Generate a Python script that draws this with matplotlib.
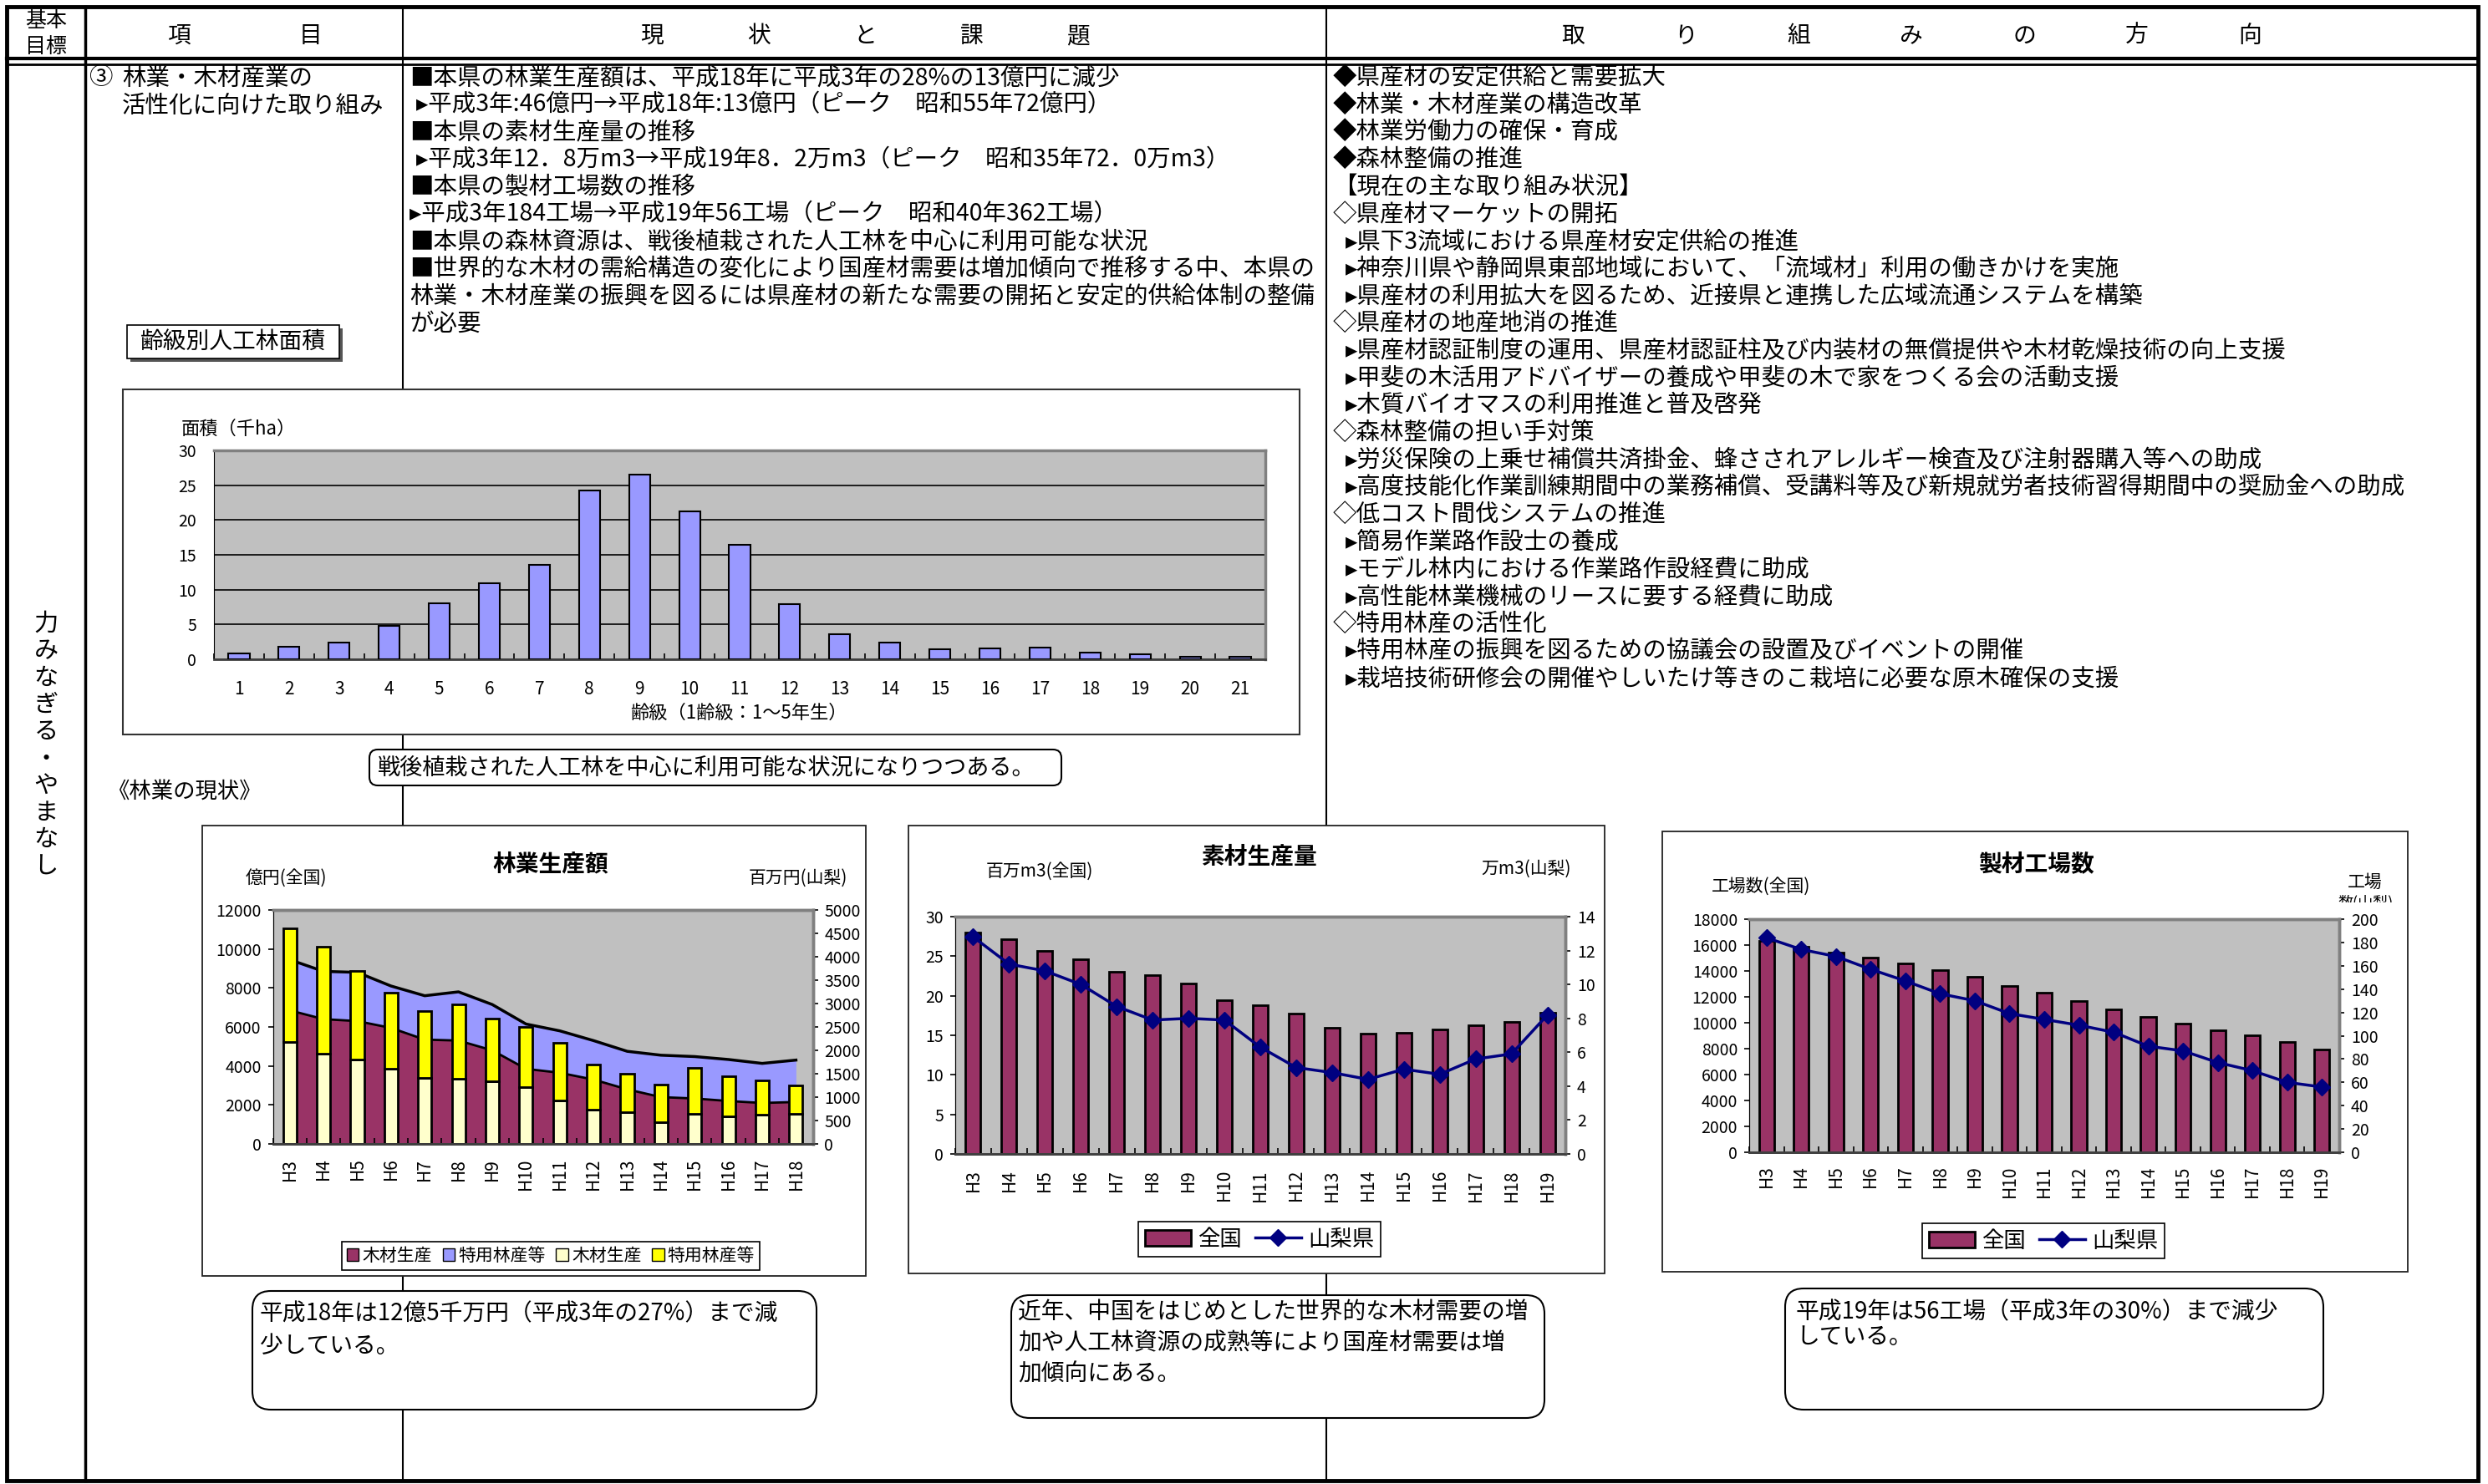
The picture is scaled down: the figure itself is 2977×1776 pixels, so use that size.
import numpy as np
import matplotlib
matplotlib.use('Agg')
import matplotlib.pyplot as plt
from matplotlib.patches import Rectangle, FancyBboxPatch, Patch
from matplotlib.lines import Line2D

plt.rcParams['font.family'] = ['Noto Sans CJK JP', 'DejaVu Sans']

W, H = 2977, 1776

# 齢級別人工林面積（千ha）
age_labels = [str(i) for i in range(1, 22)]
age_area = [0.8, 1.8, 2.4, 4.8, 8.1, 10.9, 13.6, 24.2, 26.5, 21.2, 16.5,
            7.9, 3.6, 2.4, 1.4, 1.6, 1.7, 1.0, 0.7, 0.4, 0.4]

# 林業生産額  全国(億円)=面, 山梨(百万円)=棒
prod_years = ['H3', 'H4', 'H5', 'H6', 'H7', 'H8', 'H9', 'H10', 'H11', 'H12',
              'H13', 'H14', 'H15', 'H16', 'H17', 'H18']
nat_wood = [6850, 6400, 6300, 5950, 5350, 5300, 4800, 3850, 3650, 3300,
            2800, 2400, 2330, 2200, 2100, 2150]
nat_special = [2600, 2450, 2500, 2150, 2250, 2500, 2350, 2300, 2150, 2000,
               1950, 2150, 2150, 2130, 2030, 2150]
yama_wood = [2170, 1930, 1800, 1610, 1410, 1400, 1345, 1215, 920, 730,
             670, 470, 640, 595, 620, 650]
yama_special = [2430, 2290, 1900, 1630, 1430, 1580, 1325, 1285, 1245, 970,
                830, 790, 980, 850, 740, 600]

# 素材生産量  全国(百万m3), 山梨(万m3)
log_years = prod_years + ['H19']
nat_log = [28.0, 27.1, 25.7, 24.6, 23.0, 22.6, 21.6, 19.4, 18.8, 17.7,
           15.9, 15.2, 15.3, 15.7, 16.3, 16.7, 17.8]
yama_log = [12.8, 11.2, 10.8, 10.0, 8.7, 7.9, 8.0, 7.9, 6.3, 5.1,
            4.8, 4.4, 5.0, 4.7, 5.6, 5.9, 8.2]

# 製材工場数  全国, 山梨
mill_years = log_years
nat_mills = [16300, 15860, 15450, 15040, 14590, 14050, 13520, 12840, 12300,
             11680, 11050, 10430, 9930, 9430, 9050, 8500, 7910]
yama_mills = [184, 174, 168, 157, 147, 136, 130, 119, 114, 109, 103, 91,
              87, 77, 70, 60, 56]

issues = [
    '■本県の林業生産額は、平成18年に平成3年の28%の13億円に減少',
    '▸平成3年:46億円→平成18年:13億円（ピーク　昭和55年72億円）',
    '■本県の素材生産量の推移',
    '▸平成3年12．8万m3→平成19年8．2万m3（ピーク　昭和35年72．0万m3）',
    '■本県の製材工場数の推移',
    '▸平成3年184工場→平成19年56工場（ピーク　昭和40年362工場）',
    '■本県の森林資源は、戦後植栽された人工林を中心に利用可能な状況',
    '■世界的な木材の需給構造の変化により国産材需要は増加傾向で推移する中、本県の',
    '林業・木材産業の振興を図るには県産材の新たな需要の開拓と安定的供給体制の整備',
    'が必要',
]

actions = [
    '◆県産材の安定供給と需要拡大',
    '◆林業・木材産業の構造改革',
    '◆林業労働力の確保・育成',
    '◆森林整備の推進',
    '【現在の主な取り組み状況】',
    '◇県産材マーケットの開拓',
    '▸県下3流域における県産材安定供給の推進',
    '▸神奈川県や静岡県東部地域において、「流域材」利用の働きかけを実施',
    '▸県産材の利用拡大を図るため、近接県と連携した広域流通システムを構築',
    '◇県産材の地産地消の推進',
    '▸県産材認証制度の運用、県産材認証柱及び内装材の無償提供や木材乾燥技術の向上支援',
    '▸甲斐の木活用アドバイザーの養成や甲斐の木で家をつくる会の活動支援',
    '▸木質バイオマスの利用推進と普及啓発',
    '◇森林整備の担い手対策',
    '▸労災保険の上乗せ補償共済掛金、蜂さされアレルギー検査及び注射器購入等への助成',
    '▸高度技能化作業訓練期間中の業務補償、受講料等及び新規就労者技術習得期間中の奨励金への助成',
    '◇低コスト間伐システムの推進',
    '▸簡易作業路作設士の養成',
    '▸モデル林内における作業路作設経費に助成',
    '▸高性能林業機械のリースに要する経費に助成',
    '◇特用林産の活性化',
    '▸特用林産の振興を図るための協議会の設置及びイベントの開催',
    '▸栽培技術研修会の開催やしいたけ等きのこ栽培に必要な原木確保の支援',
]

note1 = ['平成18年は12億5千万円（平成3年の27%）まで減', '少している。']
note2 = ['近年、中国をはじめとした世界的な木材需要の増',
         '加や人工林資源の成熟等により国産材需要は増', '加傾向にある。']
note3 = ['平成19年は56工場（平成3年の30%）まで減少', 'している。']

fig = plt.figure(figsize=(W / 100, H / 100), dpi=100)
bg = fig.add_axes([0, 0, 1, 1])
bg.set_xlim(0, W)
bg.set_ylim(H, 0)
bg.axis('off')


def px_axes(x0, y0, x1, y1):
    return fig.add_axes([x0 / W, 1 - y1 / H, (x1 - x0) / W, (y1 - y0) / H])


def put(x, y, s, size=20.5, **kw):
    kw.setdefault('ha', 'left')
    kw.setdefault('va', 'center')
    return bg.text(x, y, s, fontsize=size, zorder=6, **kw)


def callout(x0, y0, x1, y1, r=22):
    bg.add_patch(FancyBboxPatch((x0, y0), x1 - x0, y1 - y0,
                                boxstyle=f'round,pad=0,rounding_size={r}',
                                fc='white', ec='black', lw=1.5, zorder=4))


# table frame
bg.add_patch(Rectangle((8, 8), 2957, 1764, fill=False, lw=3.5, ec='black', zorder=2))
bg.plot([8, 2965], [70, 70], color='black', lw=3, zorder=2)
bg.plot([8, 2965], [77, 77], color='black', lw=2, zorder=2)
bg.plot([102, 102], [8, 1772], color='black', lw=2.5, zorder=1)
for xc in (482, 1587):
    bg.plot([xc, xc], [8, 1772], color='black', lw=1.5, zorder=1)

# header
put(55, 25, '基本', 18, ha='center')
put(55, 56, '目標', 18, ha='center')
for xc, ch in zip([214, 372], '項目'):
    put(xc, 43, ch, 20, ha='center')
for xc, ch in zip(np.linspace(780, 1290, 5), '現状と課題'):
    put(xc, 43, ch, 20, ha='center')
for xc, ch in zip(np.linspace(1882, 2692, 7), '取り組みの方向'):
    put(xc, 43, ch, 20, ha='center')

# left columns
for i, ch in enumerate('力みなぎる・やまなし'):
    put(55, 747 + i * 32.3, ch, 21, ha='center')
put(106, 93, '③', 20.5)
put(146, 93, '林業・木材産業の', 20.5)
put(146, 127, '活性化に向けた取り組み', 20.5)
bg.add_patch(Rectangle((156, 393), 254, 40, fc='#555555', ec='none', zorder=3))
bg.add_patch(Rectangle((152, 389), 254, 40, fc='white', ec='black', lw=1.2, zorder=4))
put(279, 409, '齢級別人工林面積', 20, ha='center')

# text columns
for i, s in enumerate(issues):
    put(498 if s.startswith('▸') and i < 4 else 490, 93 + i * 32.7, s)
for i, s in enumerate(actions):
    put(1610 if s.startswith('▸') else 1595, 93 + i * 32.7, s)


def style_axes(ax, ax2, labels, rot=90, xsize=15, pad=12):
    ax.set_facecolor('#C0C0C0')
    ax.set_xlim(-0.5, len(labels) - 0.5)
    ax.set_xticks(np.arange(len(labels)))
    ax.set_xticklabels(labels, rotation=rot, fontsize=xsize)
    ax.set_xticks(np.arange(-0.5, len(labels)), minor=True)
    ax.tick_params(axis='x', which='major', length=0, pad=pad)
    ax.tick_params(axis='x', which='minor', direction='in', length=5, width=1.2)
    for a in [ax] + ([ax2] if ax2 is not None else []):
        a.tick_params(axis='y', labelsize=14, length=4, width=1.2, pad=6)
        for side in ('top', 'right'):
            a.spines[side].set_color('#808080')
            a.spines[side].set_linewidth(2.5)
        a.spines['left'].set_color('black')
        a.spines['bottom'].set_color('#404040')
        a.spines['bottom'].set_linewidth(2)


# ---- age class chart ----
bg.add_patch(Rectangle((147, 466), 1408, 413, fc='white', ec='#333333', lw=1.5, zorder=3))
ax = px_axes(256, 539, 1514, 789)
xa = np.arange(len(age_labels))
ax.bar(xa, age_area, 0.42, color='#9999FF', edgecolor='black', lw=1.5, zorder=3)
style_axes(ax, None, age_labels, rot=0, xsize=15, pad=18)
ax.set_ylim(0, 30)
ax.set_yticks(range(0, 31, 5))
ax.tick_params(axis='y', length=0, pad=15)
ax.yaxis.grid(True, color='black', lw=1.2)
ax.set_axisbelow(True)
put(217, 513, '面積（千ha）', 16)
put(884, 853, '齢級（1齢級：1～5年生）', 16, ha='center')
callout(442, 897, 1270, 940, r=10)
put(452, 919, '戦後植栽された人工林を中心に利用可能な状況になりつつある。', 19.5)
put(128, 947, '《林業の現状》', 19)

# ---- 林業生産額 ----
bg.add_patch(Rectangle((242, 988), 794, 539, fc='white', ec='#222222', lw=1.3, zorder=3))
ax = px_axes(326.5, 1089, 972.6, 1369)
xp = np.arange(len(prod_years))
wood = np.array(nat_wood)
total = wood + np.array(nat_special)
ax.fill_between(xp, 0, wood, color='#993366', lw=0)
ax.fill_between(xp, wood, total, color='#9999FF', lw=0)
ax.plot(xp, wood, color='black', lw=2)
ax.plot(xp, total, color='black', lw=2.5)
ax.set_ylim(0, 12000)
ax.set_yticks(range(0, 12001, 2000))
ax2 = ax.twinx()
ax2.bar(xp, yama_wood, 0.4, color='#FFFFCC', edgecolor='black', lw=2)
ax2.bar(xp, yama_special, 0.4, bottom=yama_wood, color='#FFFF00', edgecolor='black', lw=2)
ax2.set_ylim(0, 5000)
ax2.set_yticks(range(0, 5001, 500))
style_axes(ax, ax2, prod_years, pad=12)
put(659, 1034, '林業生産額', 20, ha='center', fontweight='bold')
put(342, 1051, '億円(全国)', 15, ha='center')
put(955, 1051, '百万円(山梨)', 15, ha='center')
handles = [Patch(fc='#993366', ec='black'), Patch(fc='#9999FF', ec='black'),
           Patch(fc='#FFFFCC', ec='black'), Patch(fc='#FFFF00', ec='black')]
leg = ax2.legend(handles, ['木材生産', '特用林産等', '木材生産', '特用林産等'],
                 loc='center', bbox_to_anchor=(659, 1503), bbox_transform=bg.transData,
                 ncol=4, fontsize=15, handlelength=0.7, handleheight=0.7,
                 handletextpad=0.2, columnspacing=0.6, borderpad=0.3,
                 fancybox=False, edgecolor='black', framealpha=1)
leg.get_frame().set_linewidth(1.2)


def combo_chart(box, plot, years, bars, line, lmax, lstep, rmax, rstep, width, pad, legend_xy):
    bg.add_patch(Rectangle(box[:2], box[2] - box[0], box[3] - box[1],
                           fc='white', ec='#222222', lw=1.3, zorder=3))
    ax = px_axes(*plot)
    xs = np.arange(len(years))
    ax.bar(xs, bars, width, color='#993366', edgecolor='black', lw=2)
    ax.set_ylim(0, lmax)
    ax.set_yticks(np.arange(0, lmax + 1, lstep))
    ax2 = ax.twinx()
    ax2.plot(xs, line, color='#000080', lw=2.5, marker='D', ms=10)
    ax2.set_ylim(0, rmax)
    ax2.set_yticks(np.arange(0, rmax + 1, rstep))
    style_axes(ax, ax2, years, pad=pad)
    hs = [Patch(fc='#993366', ec='black', lw=2),
          Line2D([], [], color='#000080', lw=2.5, marker='D', ms=10)]
    lg = ax2.legend(hs, ['全国', '山梨県'], loc='center', bbox_to_anchor=legend_xy,
                    bbox_transform=bg.transData, ncol=2, fontsize=19,
                    handlelength=2.1, handleheight=0.7, handletextpad=0.3,
                    columnspacing=0.6, borderpad=0.3, fancybox=False,
                    edgecolor='black', framealpha=1)
    lg.get_frame().set_linewidth(1.2)


# ---- 素材生産量 ----
combo_chart((1087, 988, 1920, 1524), (1143, 1097, 1873, 1381), log_years,
            nat_log, yama_log, 30, 5, 14, 2, 0.42, 13, (1507, 1483))
put(1506, 1026, '素材生産量', 20, ha='center', fontweight='bold')
put(1244, 1043, '百万m3(全国)', 15, ha='center')
put(1826, 1040, '万m3(山梨)', 15, ha='center')

# ---- 製材工場数 ----
combo_chart((1989, 995, 2881, 1522), (2093, 1100, 2799, 1379), mill_years,
            nat_mills, yama_mills, 18000, 2000, 200, 20, 0.44, 11, (2445, 1485))
put(2436, 1034, '製材工場数', 20, ha='center', fontweight='bold')
put(2107, 1061, '工場数(全国)', 15, ha='center')
put(2830, 1056, '工場', 15, ha='center')
# second line of the right-axis title is cut off in the source chart
t = put(2830, 1080, '数(山梨)', 13, ha='center')
t.set_clip_on(True)
t.set_clip_path(Rectangle((2770, 1070), 130, 10, transform=bg.transData))

# ---- bottom notes ----
callout(302, 1545, 977, 1687)
for i, s in enumerate(note1):
    put(311, 1572 + i * 39, s, 20)
callout(1210, 1550, 1848, 1697)
for i, s in enumerate(note2):
    put(1218, 1570 + i * 37.5, s, 20)
callout(2136, 1542, 2780, 1687)
for i, s in enumerate(note3):
    put(2149, 1570 + i * 30, s, 20)

fig.savefig('out.png', dpi=100, facecolor='white')
